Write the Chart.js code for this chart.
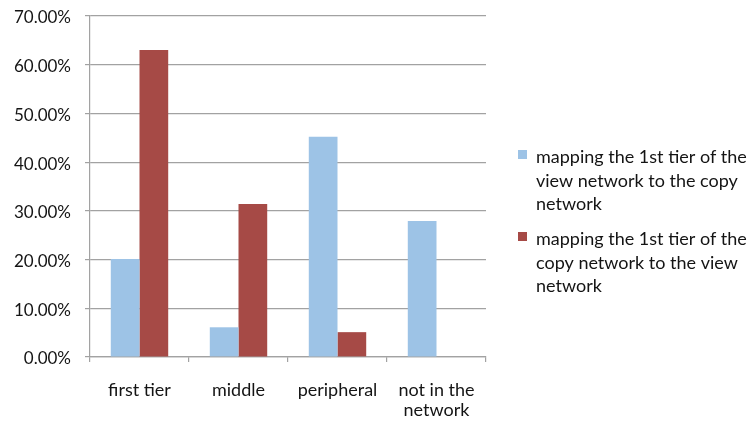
<!DOCTYPE html>
<html>
<head>
<meta charset="utf-8">
<script src="https://cdn.jsdelivr.net/npm/chart.js@4.4.0/dist/chart.umd.min.js"></script>
<style>
  html, body { margin: 0; padding: 0; background: #ffffff; }
  canvas { display: block; }
</style>
</head>
<body>
<canvas id="chart" width="754" height="421"></canvas>
<script>
// Share of nodes (%) by position after mapping the 1st tier between networks
const categories = ['first tier', 'middle', 'peripheral', ['not in the', 'network']];
const viewToCopy = [20.1, 6.1, 45.2, 27.9];
const copyToView = [63.0, 31.4, 5.1, null];
const seriesNames = [
  'mapping the 1st tier of the view network to the copy network',
  'mapping the 1st tier of the copy network to the view network'
];
const yMin = 0;
const yMax = 70;
const yStep = 10;

const FONT = 'Lato, "Open Sans", sans-serif';
const TEXT = '#141414';
const GRID = '#a2a2a2';
const BLUE = '#9dc3e6';
const RED = '#a64a46';

// Legend drawn in a column to the right of the plot, wrapping long labels
const wrappedLegend = {
  id: 'wrappedLegend',
  afterDraw(chart, args, opts) {
    const ctx = chart.ctx;
    ctx.save();
    ctx.font = opts.size + 'px ' + FONT;
    ctx.textBaseline = 'alphabetic';
    ctx.textAlign = 'left';
    let baseline = opts.top;
    chart.data.datasets.forEach(ds => {
      const words = ds.label.split(' ');
      const lines = [];
      let line = '';
      words.forEach(w => {
        const next = line ? line + ' ' + w : w;
        if (line && ctx.measureText(next).width > opts.maxWidth) {
          lines.push(line);
          line = w;
        } else {
          line = next;
        }
      });
      if (line) lines.push(line);

      ctx.fillStyle = ds.backgroundColor;
      ctx.fillRect(opts.boxX, baseline - opts.boxRise, opts.boxSize, opts.boxSize);
      ctx.fillStyle = TEXT;
      lines.forEach((l, i) => {
        ctx.fillText(l, opts.textX, baseline + i * opts.lineHeight);
      });
      baseline += (lines.length - 1) * opts.lineHeight + opts.itemGap;
    });
    ctx.restore();
  }
};

new Chart(document.getElementById('chart'), {
  type: 'bar',
  data: {
    labels: categories,
    datasets: [
      { label: seriesNames[0], data: viewToCopy, backgroundColor: BLUE },
      { label: seriesNames[1], data: copyToView, backgroundColor: RED }
    ]
  },
  options: {
    responsive: false,
    animation: false,
    devicePixelRatio: 1,
    layout: { padding: { top: 16, right: 268, bottom: 0, left: 0 } },
    datasets: {
      bar: { categoryPercentage: 0.58, barPercentage: 1.0 }
    },
    plugins: {
      legend: { display: false },
      tooltip: { enabled: false },
      wrappedLegend: {
        size: 18,
        top: 163,
        textX: 536,
        boxX: 518,
        boxSize: 9,
        boxRise: 13,
        maxWidth: 218,
        lineHeight: 23.5,
        itemGap: 35
      }
    },
    scales: {
      x: {
        afterFit(scale) {
          scale.height = 64;
          scale.paddingLeft = 0;
          scale.paddingRight = 0;
        },
        grid: {
          drawOnChartArea: false,
          drawTicks: true,
          tickLength: 5,
          color: GRID,
          lineWidth: 1.2
        },
        border: { display: true, color: GRID, width: 1.2 },
        ticks: {
          color: TEXT,
          font: { family: FONT, size: 18, lineHeight: 1.1 },
          padding: 18,
          maxRotation: 0,
          autoSkip: false
        }
      },
      y: {
        min: yMin,
        max: yMax,
        afterFit(scale) {
          scale.width = 90;
          scale.paddingTop = 0;
          scale.paddingBottom = 0;
        },
        grid: {
          color: GRID,
          lineWidth: 1.2,
          tickLength: 5
        },
        border: { display: true, color: GRID, width: 1.2 },
        ticks: {
          stepSize: yStep,
          color: TEXT,
          font: { family: FONT, size: 17 },
          padding: 14,
          labelOffset: 2,
          callback: v => v.toFixed(2) + '%'
        }
      }
    }
  },
  plugins: [wrappedLegend]
});
</script>
</body>
</html>
